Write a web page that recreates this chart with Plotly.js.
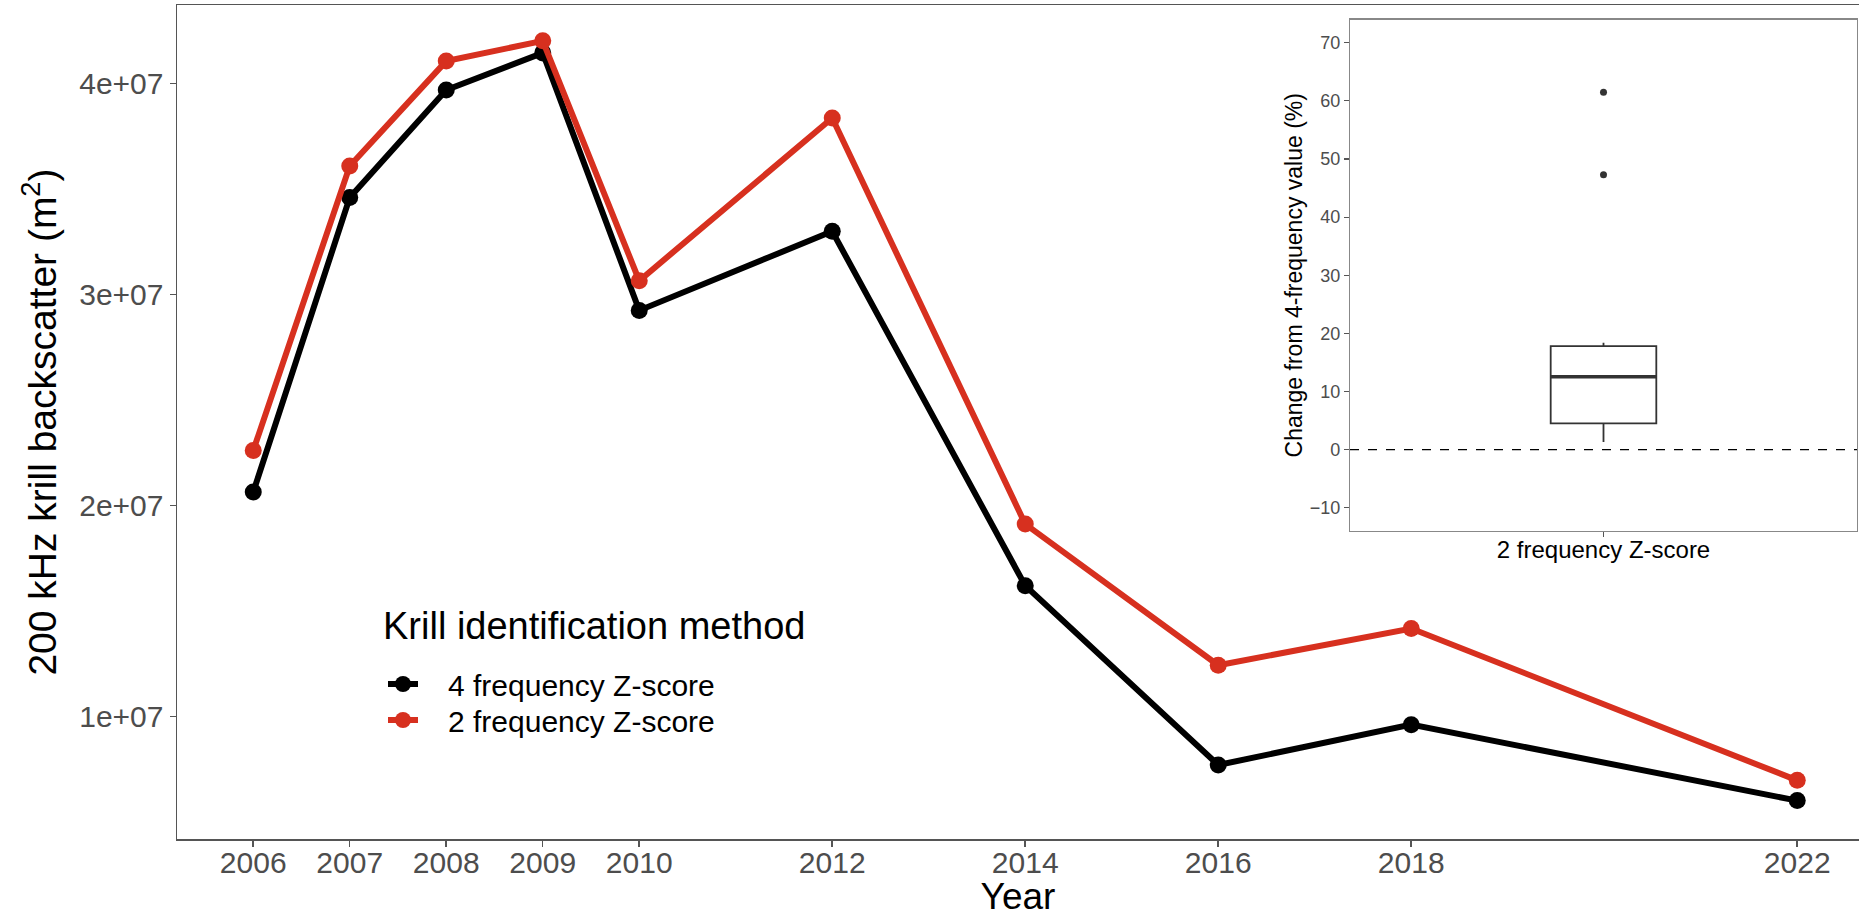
<!DOCTYPE html>
<html>
<head>
<meta charset="utf-8">
<script src="https://cdn.plot.ly/plotly-3.0.1.min.js"></script>
<style>html,body{margin:0;padding:0;background:#fff;}#chart{width:1859px;height:917px;}</style>
</head>
<body>
<div id="chart"></div>
<script>
// ---- data ----
const years = [2006, 2007, 2008, 2009, 2010, 2012, 2014, 2016, 2018, 2022];
const fourFreq = [2.064e7, 3.46e7, 3.97e7, 4.146e7, 2.925e7, 3.30e7, 1.62e7, 0.77e7, 0.961e7, 0.601e7];
const twoFreq  = [2.261e7, 3.61e7, 4.107e7, 4.203e7, 3.066e7, 3.837e7, 1.912e7, 1.243e7, 1.417e7, 0.697e7];
const seriesNames = ['4 frequency Z-score', '2 frequency Z-score'];
const legendTitle = 'Krill identification method';
const yTickVals = [1e7, 2e7, 3e7, 4e7];
const yTickText = ['1e+07', '2e+07', '3e+07', '4e+07'];
const xTickText = years.map(String);

// inset box plot (change from 4-frequency value, %)
const boxCategory = ['2 frequency Z-score'];
const boxQ1 = [4.5];
const boxMedian = [12.55];
const boxQ3 = [17.8];
const boxLowerFence = [1.3];
const boxUpperFence = [18.4];
const boxOutliers = [61.5, 47.3];
const insetTicks = [-10, 0, 10, 20, 30, 40, 50, 60, 70];

const FONT = 'Liberation Sans, Arial, Helvetica, sans-serif';
const RED = '#d7301f';
const LINECOL = '#555555';
const PAD = '\u00a0\u00a0\u00a0';

const traces = [
  {
    x: years, y: fourFreq, name: PAD + seriesNames[0], type: 'scatter', mode: 'lines+markers',
    line: {color: '#000000', width: 6}, marker: {color: '#000000', size: 17},
    xaxis: 'x', yaxis: 'y', legend: 'legend'
  },
  {
    x: years, y: twoFreq, name: PAD + seriesNames[1], type: 'scatter', mode: 'lines+markers',
    line: {color: RED, width: 6}, marker: {color: RED, size: 17},
    xaxis: 'x', yaxis: 'y', legend: 'legend2'
  },
  {
    type: 'box', x: boxCategory, q1: boxQ1, median: boxMedian, q3: boxQ3,
    lowerfence: boxLowerFence, upperfence: boxUpperFence,
    boxpoints: false, whiskerwidth: 0, width: 0.25,
    fillcolor: '#ffffff', line: {color: '#333333', width: 1.8},
    showlegend: false, xaxis: 'x2', yaxis: 'y2'
  },
  {
    // thicker median bar (ggplot style)
    type: 'box', x: boxCategory, q1: boxMedian, median: boxMedian, q3: boxMedian,
    lowerfence: boxMedian, upperfence: boxMedian,
    boxpoints: false, whiskerwidth: 0, width: 0.25,
    fillcolor: 'rgba(0,0,0,0)', line: {color: '#333333', width: 3.5},
    showlegend: false, xaxis: 'x2', yaxis: 'y2'
  },
  {
    type: 'scatter', mode: 'markers', x: boxOutliers.map(() => boxCategory[0]), y: boxOutliers,
    marker: {color: '#333333', size: 7}, showlegend: false, xaxis: 'x2', yaxis: 'y2'
  }
];

const W = 1859, H = 917;
const M = {l: 177, r: 0, t: 5, b: 78};
const PW = W - M.l - M.r, PH = H - M.t - M.b;
const px2x = (px) => (px - M.l) / PW;
const px2y = (py) => (H - M.b - py) / PH;

const legendBase = {
  xanchor: 'left', yanchor: 'top',
  bgcolor: 'rgba(0,0,0,0)', itemwidth: 30,
  font: {family: FONT, size: 30, color: '#000000'}
};

const layout = {
  width: W, height: H,
  margin: M,
  boxmode: 'overlay',
  paper_bgcolor: '#ffffff', plot_bgcolor: '#ffffff',
  font: {family: FONT, color: '#000000'},
  showlegend: true,
  legend: Object.assign({x: px2x(383), y: px2y(658)}, legendBase),
  legend2: Object.assign({x: px2x(383), y: px2y(694)}, legendBase),
  annotations: [
    {text: legendTitle, xref: 'paper', yref: 'paper', x: px2x(381), y: px2y(626),
     xanchor: 'left', yanchor: 'middle', showarrow: false,
     font: {family: FONT, size: 38, color: '#000000'}}
  ],
  xaxis: {
    domain: [0, 1], range: [2005.21, 2022.64],
    tickmode: 'array', tickvals: years, ticktext: xTickText,
    ticks: 'outside', ticklen: 6, tickwidth: 1.5, tickcolor: LINECOL,
    ticklabelstandoff: -10,
    showline: true, linecolor: LINECOL, linewidth: 1.5, mirror: true,
    showgrid: false, zeroline: false,
    tickfont: {family: FONT, size: 30, color: '#4d4d4d'},
    title: {text: 'Year', font: {family: FONT, size: 37, color: '#000000'}, standoff: 20},
    anchor: 'y'
  },
  yaxis: {
    domain: [0, 1], range: [0.419e7, 4.373e7],
    tickmode: 'array', tickvals: yTickVals, ticktext: yTickText,
    ticks: 'outside', ticklen: 6, tickwidth: 1.5, tickcolor: LINECOL,
    showline: true, linecolor: LINECOL, linewidth: 1.5, mirror: false,
    showgrid: false, zeroline: false,
    tickfont: {family: FONT, size: 30, color: '#4d4d4d'},
    title: {text: '200 kHz krill backscatter (m<sup>2</sup>)', font: {family: FONT, size: 39, color: '#000000'}, standoff: 10},
    anchor: 'x'
  },
  xaxis2: {
    domain: [px2x(1350), px2x(1857)], type: 'category', range: [-0.6, 0.6],
    ticks: 'outside', ticklen: 5, tickwidth: 1.2, tickcolor: LINECOL,
    ticklabelstandoff: -8,
    showline: true, linecolor: '#888888', linewidth: 1.2, mirror: true,
    showgrid: false, zeroline: false,
    tickfont: {family: FONT, size: 24, color: '#000000'},
    anchor: 'y2'
  },
  yaxis2: {
    domain: [px2y(531), px2y(19.5)], range: [-14, 74],
    tickmode: 'array', tickvals: insetTicks,
    ticks: 'outside', ticklen: 5, tickwidth: 1.2, tickcolor: LINECOL,
    showline: true, linecolor: '#888888', linewidth: 1.2, mirror: true,
    showgrid: false, zeroline: false,
    tickfont: {family: FONT, size: 18, color: '#4d4d4d'},
    title: {text: 'Change from 4-frequency value (%)', font: {family: FONT, size: 23, color: '#000000'}, standoff: 0},
    anchor: 'x2'
  },
  shapes: [
    {type: 'line', xref: 'x2 domain', yref: 'y2', x0: 0, x1: 1, y0: 0, y1: 0,
     line: {color: '#000000', width: 1.3, dash: 'dash'}, layer: 'above'}
  ]
};

Plotly.newPlot('chart', traces, layout, {displayModeBar: false, staticPlot: true});
</script>
</body>
</html>
